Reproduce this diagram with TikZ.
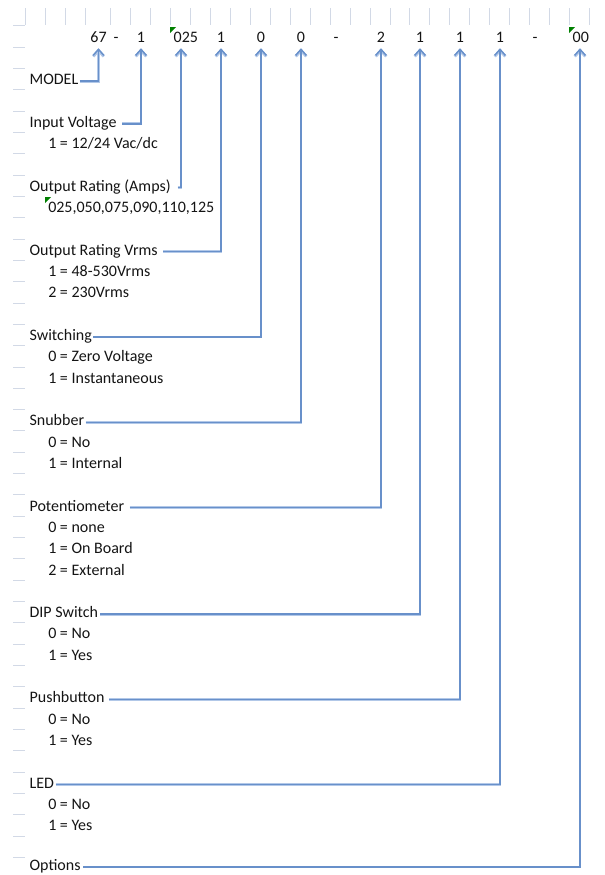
\documentclass[tikz,border=0pt]{standalone}
\usepackage{fontspec}
\setmainfont{Carlito}
\usetikzlibrary{positioning}
\usetikzlibrary{arrows.meta,backgrounds}

\definecolor{linkblue}{RGB}{104,144,202}
\definecolor{linkhalo}{RGB}{178,200,232}
\definecolor{gridgray}{RGB}{210,217,230}
\definecolor{flaggreen}{RGB}{0,128,0}
\definecolor{inkgray}{RGB}{20,20,20}

\begin{document}
\begin{tikzpicture}[x=0.75pt,y=-0.75pt,
  font=\fontsize{12}{14}\selectfont, text=inkgray,
  cell/.style={text width=11pt,inner xsep=2pt,inner ysep=0pt,align=center,
    minimum height=16.5pt,text height=7.5pt,text depth=0pt},
  txtcell/.style={cell,align=left},
  lbl/.style={anchor=west,inner xsep=1pt,inner ysep=0pt,text height=7.5pt,text depth=2.25pt},
  opt/.style={anchor=base west,inner sep=0pt},
  gridline/.style={draw=gridgray,line width=0.75pt},
  conn/.style={draw=linkblue,line width=1.1pt,-{Straight Barb[length=4.5pt,width=8pt]},
    preaction={draw=linkhalo,line width=2.2pt}},
  flag/.style={fill=flaggreen}]
\useasboundingbox (0,0) rectangle (605,875);

% part number, one cell per field
\node[cell,text width=14.75pt] (cModel) at (98.5,37) {67};
\node[txtcell] (cDashA) at (121,37) {-};
\node[cell] (cVolt) at (141,37) {1};
\node[txtcell] (cAmps) at (181,37) {025};
\node[cell] (cVrms) at (221,37) {1};
\node[cell] (cSwitch) at (261,37) {0};
\node[cell] (cSnub) at (301,37) {0};
\node[txtcell] (cDashB) at (341,37) {-};
\node[cell] (cPot) at (381,37) {2};
\node[cell] (cDip) at (420,37) {1};
\node[cell] (cPush) at (460,37) {1};
\node[cell] (cLed) at (500,37) {1};
\node[txtcell] (cDashC) at (540,37) {-};
\node[txtcell] (cOpt) at (580,37) {00};

% field names
\foreach \k/\n/\t in {2/lModel/MODEL, 4/lVolt/Input Voltage, 7/lAmps/Output Rating (Amps),
  10/lVrms/Output Rating Vrms, 14/lSwitch/Switching, 18/lSnub/Snubber,
  22/lPot/Potentiometer, 27/lDip/DIP Switch, 31/lPush/Pushbutton, 35/lLed/LED}
  \node[lbl] (\n) at (28,{38.5+21.32*\k}) {\t};
\node[lbl] (lOpt) at (28,867) {Options};

% field values
\foreach \k/\n/\t in {5/oVolt1/{1 = 12/24 Vac/dc}, 8/oAmps1/{025,050,075,090,110,125},
  11/oVrms1/1 = 48-530Vrms, 12/oVrms2/2 = 230Vrms,
  15/oSwitch0/0 = Zero Voltage, 16/oSwitch1/1 = Instantaneous,
  19/oSnub0/0 = No, 20/oSnub1/1 = Internal,
  23/oPot0/0 = none, 24/oPot1/1 = On Board, 25/oPot2/2 = External,
  28/oDip0/0 = No, 29/oDip1/1 = Yes, 32/oPush0/0 = No, 33/oPush1/1 = Yes,
  36/oLed0/0 = No, 37/oLed1/1 = Yes}
  \node[opt] (\n) at (48,{42+21.32*\k}) {\t};

% connectors
\foreach \l/\c/\g in {lModel/cModel/0, lVolt/cVolt/3, lAmps/cAmps/4, lVrms/cVrms/3,
  lSwitch/cSwitch/0, lSnub/cSnub/0, lPot/cPot/3, lDip/cDip/0.5,
  lPush/cPush/2, lLed/cLed/0, lOpt/cOpt/1}
  \draw[conn,shorten <=\g pt] (\l.east) -| (\c.south);

% text-number flags
\fill[flag] (170,27) -- ++(6,0) -- ++(-6,6) -- cycle;
\fill[flag] (569,27) -- ++(6,0) -- ++(-6,6) -- cycle;
\fill[flag] (45,197) -- ++(6,0) -- ++(-6,6) -- cycle;

\begin{scope}[on background layer]
\foreach \x in {25,45,65,85}
  \draw[gridline] (\x,8) -- (\x,25);
\foreach \x in {110,130,...,390}
  \draw[gridline] (\x,8) -- (\x,25);
\foreach \x in {409,429,...,589}
  \draw[gridline] (\x,8) -- (\x,25);
\draw[gridline] (13,25) -- (25,25);
\foreach \k in {0,...,38}
  \draw[gridline] (13,{47.2+21.32*\k}) -- (25,{47.2+21.32*\k});
\end{scope}
\end{tikzpicture}
\end{document}
